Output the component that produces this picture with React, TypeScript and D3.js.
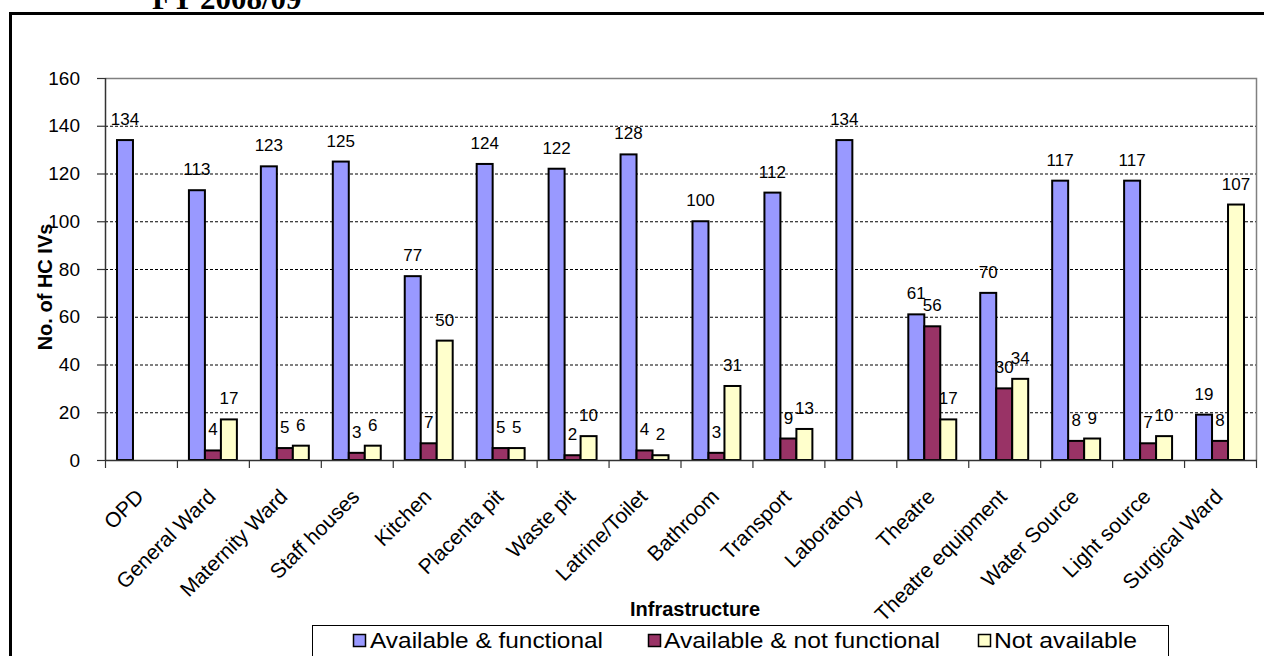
import React from 'react';
import * as d3 from 'd3';

const categories = [
  'OPD', 'General Ward', 'Maternity Ward', 'Staff houses', 'Kitchen', 'Placenta pit',
  'Waste pit', 'Latrine/Toilet', 'Bathroom', 'Transport', 'Laboratory', 'Theatre',
  'Theatre equipment', 'Water Source', 'Light source', 'Surgical Ward',
];
const functional = [134, 113, 123, 125, 77, 124, 122, 128, 100, 112, 134, 61, 70, 117, 117, 19];
const notFunctional = [null, 4, 5, 3, 7, 5, 2, 4, 3, 9, null, 56, 30, 8, 7, 8];
const notAvailable = [null, 17, 6, 6, 50, 5, 10, 2, 31, 13, null, 17, 34, 9, 10, 107];
const yTicks = [0, 20, 40, 60, 80, 100, 120, 140, 160];

const seriesNames = ['Available & functional', 'Available & not functional', 'Not available'];
const seriesColors = ['#9999FF', '#993366', '#FFFFCC'];
const seriesValues = [functional, notFunctional, notAvailable];

const FONT = '"Liberation Sans", Arial, sans-serif';

// legend item placement: square x, text x, text width
const legendItems = [[353, 370, 233], [648, 664, 276], [978, 994, 143]];

const App = () => {
  const W = 1264, H = 656;
  const plot = { left: 105, right: 1256, top: 78, bottom: 460 };

  const x = d3.scaleBand<string>().domain(categories).range([plot.left, plot.right]).paddingInner(0).paddingOuter(0);
  const y = d3.scaleLinear().domain([0, 160]).range([plot.bottom, plot.top]);
  // Excel-style gap width: group takes 2/3 of the band
  const inner = d3.scaleBand<number>().domain([0, 1, 2]).range([0, x.bandwidth() * 2 / 3]);
  const groupOffset = x.bandwidth() / 6;

  const boundaries = categories.map(c => x(c)!).concat([plot.right]);

  return (
    <div style={{ position: 'fixed', left: 0, top: 0, width: W, height: H, background: '#fff' }}>
      <svg width={W} height={H} style={{ display: 'block' }}>
        {/* clipped title from the page above */}
        <text x={152} y={9} fontFamily='"Liberation Serif", "Times New Roman", serif' fontWeight="bold" fontSize={31} fill="#000">FY 2008/09</text>

        {/* outer frame */}
        <rect x={10.5} y={13.5} width={1400} height={800} fill="#fff" stroke="#000" strokeWidth={3} />

        {/* gridlines */}
        {yTicks.filter(t => t > 0 && t < 160).map(t => (
          <line key={t} x1={plot.left} x2={plot.right} y1={y(t) + 0.5} y2={y(t) + 0.5}
            stroke="#000" strokeWidth={1} strokeDasharray="3,2" />
        ))}
        {/* plot area border top/right */}
        <path d={`M${plot.left},${plot.top + 0.5}H${plot.right + 0.5}V${plot.bottom}`} fill="none" stroke="#808080" strokeWidth={1.5} />

        {/* y axis */}
        <line x1={plot.left + 0.5} x2={plot.left + 0.5} y1={plot.top} y2={plot.bottom} stroke="#333" strokeWidth={1.5} />
        {yTicks.map(t => (
          <g key={t}>
            <line x1={plot.left - 8} x2={plot.left} y1={y(t) + 0.5} y2={y(t) + 0.5} stroke="#333" strokeWidth={1.2} />
            <text x={80} y={y(t)} dy="0.35em" textAnchor="end" fontFamily={FONT} fontSize={19} fill="#000">{t}</text>
          </g>
        ))}

        {/* bars */}
        {seriesValues.map((vals, si) => (
          <g key={si}>
            {vals.map((v, ci) => v == null ? null : (
              <rect key={ci}
                x={x(categories[ci])! + groupOffset + inner(si)!}
                y={y(v)}
                width={inner.bandwidth()}
                height={y(0) - y(v)}
                fill={seriesColors[si]} stroke="#000" strokeWidth={2} />
            ))}
          </g>
        ))}

        {/* x axis */}
        <line x1={plot.left} x2={plot.right + 1} y1={plot.bottom + 0.5} y2={plot.bottom + 0.5} stroke="#333" strokeWidth={1.5} />
        {boundaries.map((bx, i) => (
          <line key={i} x1={bx + 0.5} x2={bx + 0.5} y1={plot.bottom} y2={plot.bottom + 8} stroke="#333" strokeWidth={1.2} />
        ))}

        {/* data labels */}
        {seriesValues.map((vals, si) => (
          <g key={'l' + si}>
            {vals.map((v, ci) => v == null ? null : (
              <text key={ci}
                x={x(categories[ci])! + groupOffset + inner(si)! + inner.bandwidth() / 2}
                y={y(v) - 15}
                textAnchor="middle" fontFamily={FONT} fontSize={17} fill="#000">{v}</text>
            ))}
          </g>
        ))}

        {/* category labels */}
        {categories.map(c => (
          <text key={c} transform={`translate(${x(c)! + x.bandwidth() / 2 + 4},${498}) rotate(-45)`}
            textAnchor="end" fontFamily={FONT} fontSize={21} fill="#000">{c}</text>
        ))}

        {/* axis titles */}
        <text transform={`translate(52,287) rotate(-90)`} textAnchor="middle" fontFamily={FONT} fontWeight="bold" fontSize={20} fill="#000">No. of HC IVs</text>
        <text x={695} y={616} textAnchor="middle" fontFamily={FONT} fontWeight="bold" fontSize={20} fill="#000">Infrastructure</text>

        {/* legend */}
        <rect x={312.5} y={625.5} width={856} height={60} fill="#fff" stroke="#000" strokeWidth={1} />
        {legendItems.map(([sx, tx, tw], i) => (
          <g key={i}>
            <rect x={sx + 0.5} y={634.5} width={12} height={12} fill={seriesColors[i]} stroke="#000" strokeWidth={1.5} />
            <text x={tx} y={648} fontFamily={FONT} fontSize={22} textLength={tw} lengthAdjust="spacingAndGlyphs" fill="#000">{seriesNames[i]}</text>
          </g>
        ))}
      </svg>
    </div>
  );
};

export default App;
